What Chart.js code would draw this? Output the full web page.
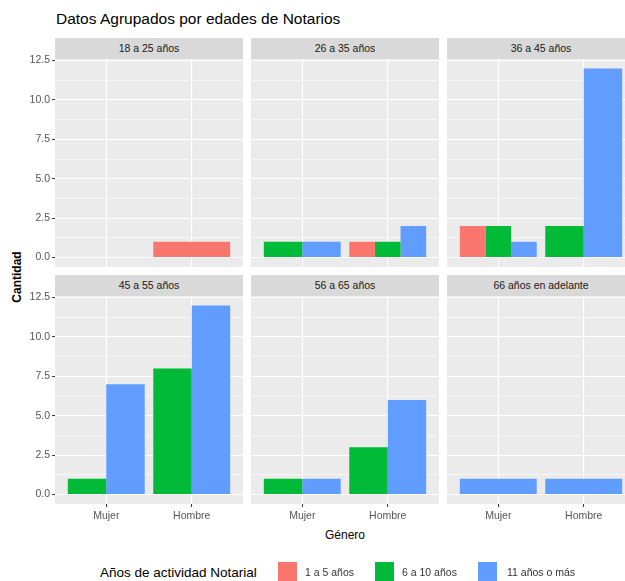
<!DOCTYPE html>
<html>
<head>
<meta charset="utf-8">
<script src="https://cdn.jsdelivr.net/npm/chart.js@4.4.1/dist/chart.umd.min.js"></script>
<style>
    html, body { margin: 0; padding: 0; overflow: hidden; background: #fff; width: 625px; height: 581px; }
    body { position: relative; font-family: "Liberation Sans", Arial, sans-serif; }
    .abs { position: absolute; white-space: nowrap; }
    #title { left: 56px; top: 10px; font-size: 15.5px; color: #000; }
    .strip { background: #d9d9d9; color: #1a1a1a; font-size: 10.5px; text-align: center; height: 21px; line-height: 21px; }
    #ytitle { left: 17px; top: 277px; font-size: 12px; font-weight: bold; color: #000; transform: translate(-50%, -50%) rotate(-90deg); }
    #xtitle { left: 345px; top: 535px; font-size: 12px; color: #000; transform: translate(-50%, -50%); }
    #legend-title { left: 100px; top: 572px; font-size: 13.5px; color: #000; transform: translateY(-50%); }
    .key { width: 19px; height: 19px; top: 562px; }
    .key-label { top: 572px; font-size: 10.5px; color: #333; transform: translateY(-50%); }
</style>
</head>
<body>
<div id="title" class="abs">Datos Agrupados por edades de Notarios</div>
<div id="ytitle" class="abs">Cantidad</div>
<div id="xtitle" class="abs">Género</div>
<div id="legend-title" class="abs">Años de actividad Notarial</div>
<div id="panels"></div>
<div id="legend"></div>

<script>
const ageGroups = ['18 a 25 años', '26 a 35 años', '36 a 45 años', '45 a 55 años', '56 a 65 años', '66 años en adelante'];
const genders = ['Mujer', 'Hombre'];
const seriesNames = ['1 a 5 años', '6 a 10 años', '11 años o más'];

// one [Mujer, Hombre] pair per age group, null = no bar
const counts1a5 = [[null, 1], [null, 1], [2, null], [null, null], [null, null], [null, null]];
const counts6a10 = [[null, null], [1, 1], [2, 2], [1, 8], [1, 3], [null, null]];
const counts11mas = [[null, null], [1, 2], [1, 12], [7, 12], [1, 6], [1, 1]];

const yMajorTicks = [0, 2.5, 5, 7.5, 10, 12.5];
const yMajorLabels = ['0.0', '2.5', '5.0', '7.5', '10.0', '12.5'];
const yMinorTicks = [1.25, 3.75, 6.25, 8.75, 11.25];
const yRange = [-0.6, 12.6];
const xRange = [0.4, 2.6];

const seriesCounts = [counts1a5, counts6a10, counts11mas];
const seriesColors = ['#F8766D', '#00BA38', '#619CFF'];

// layout
const colLeft = [55, 251, 447];
const rowTop = [59, 296];
const panelW = 188;
const panelH = 208;
const stripH = 21;
const yAxisW = 55;
const xAxisH = 28;
const padTop = 10;
const padBottom = 10;
const legendKeyLeft = [278, 375, 478];
const legendLabelLeft = [305, 402, 507];

Chart.defaults.font.family = '"Liberation Sans", Arial, sans-serif';
Chart.defaults.animation = false;

const panelBg = {
    id: 'panelBg',
    beforeDraw(chart) {
        const a = chart.chartArea;
        const ctx = chart.ctx;
        ctx.save();
        ctx.fillStyle = '#ebebeb';
        ctx.fillRect(a.left, a.top, a.right - a.left, a.bottom - a.top);
        ctx.restore();
    }
};

function buildPanel(p) {
    const col = p % 3;
    const row = Math.floor(p / 3);
    const leftCol = col === 0;
    const bottomRow = row === 1;
    const host = document.getElementById('panels');

    const strip = document.createElement('div');
    strip.className = 'abs strip';
    strip.style.left = colLeft[col] + 'px';
    strip.style.top = (rowTop[row] - stripH) + 'px';
    strip.style.width = panelW + 'px';
    strip.textContent = ageGroups[p];
    host.appendChild(strip);

    const bottomSpace = bottomRow ? xAxisH : padBottom;
    const w = (leftCol ? yAxisW : 0) + panelW;
    const h = padTop + panelH + bottomSpace;
    const canvas = document.createElement('canvas');
    canvas.className = 'abs';
    canvas.width = w;
    canvas.height = h;
    canvas.style.width = w + 'px';
    canvas.style.height = h + 'px';
    canvas.style.left = (colLeft[col] - (leftCol ? yAxisW : 0)) + 'px';
    canvas.style.top = (rowTop[row] - padTop) + 'px';
    host.appendChild(canvas);

    const datasets = seriesNames.map((name, s) => ({
        label: name,
        backgroundColor: seriesColors[s],
        borderWidth: 0,
        skipNull: true,
        categoryPercentage: 0.9,
        barPercentage: 1,
        data: genders.map((g, gi) => ({ x: gi + 1, y: seriesCounts[s][p][gi] }))
    }));

    const yAll = yMajorTicks.concat(yMinorTicks).sort((a, b) => a - b);
    const isMajor = v => yMajorTicks.indexOf(v) !== -1;

    new Chart(canvas, {
        type: 'bar',
        data: { datasets },
        options: {
            responsive: false,
            devicePixelRatio: 1,
            layout: { padding: { top: padTop, left: 0, right: 0, bottom: bottomRow ? 0 : padBottom } },
            plugins: { legend: { display: false }, tooltip: { enabled: false } },
            scales: {
                x: {
                    type: 'linear',
                    offset: false,
                    min: xRange[0],
                    max: xRange[1],
                    afterBuildTicks: axis => { axis.ticks = genders.map((g, gi) => ({ value: gi + 1 })); },
                    afterFit: axis => { axis.height = bottomRow ? xAxisH : 0; },
                    border: { display: false },
                    grid: {
                        offset: false,
                        color: '#ffffff',
                        lineWidth: 1.1,
                        drawTicks: bottomRow,
                        tickLength: 3,
                        tickColor: '#333333',
                        tickWidth: 1
                    },
                    ticks: {
                        display: bottomRow,
                        autoSkip: false,
                        maxRotation: 0,
                        padding: 3,
                        color: '#555555',
                        font: { size: 10.5 },
                        callback: v => genders[v - 1]
                    }
                },
                y: {
                    type: 'linear',
                    min: yRange[0],
                    max: yRange[1],
                    afterBuildTicks: axis => { axis.ticks = yAll.map(v => ({ value: v })); },
                    afterFit: axis => { axis.width = leftCol ? yAxisW : 0; },
                    border: { display: false },
                    grid: {
                        color: '#ffffff',
                        lineWidth: ctx => (ctx.tick && isMajor(ctx.tick.value)) ? 1.1 : 0.55,
                        drawTicks: leftCol,
                        tickLength: 3,
                        tickColor: ctx => (ctx.tick && isMajor(ctx.tick.value)) ? '#333333' : 'rgba(0,0,0,0)',
                        tickWidth: 1
                    },
                    ticks: {
                        display: leftCol,
                        autoSkip: false,
                        padding: 2,
                        color: '#555555',
                        font: { size: 10.5 },
                        callback: v => {
                            const i = yMajorTicks.indexOf(v);
                            return i === -1 ? '' : yMajorLabels[i];
                        }
                    }
                }
            }
        },
        plugins: [panelBg]
    });
}

ageGroups.forEach((g, p) => buildPanel(p));

const legend = document.getElementById('legend');
seriesNames.forEach((name, s) => {
    const key = document.createElement('div');
    key.className = 'abs key';
    key.style.left = legendKeyLeft[s] + 'px';
    key.style.background = seriesColors[s];
    legend.appendChild(key);

    const label = document.createElement('div');
    label.className = 'abs key-label';
    label.style.left = legendLabelLeft[s] + 'px';
    label.textContent = name;
    legend.appendChild(label);
});
</script>
</body>
</html>
